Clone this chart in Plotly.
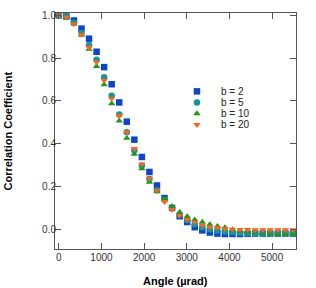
import plotly.graph_objects as go

step = 177.0
angle = [k * step for k in range(32)]

b2 = [1.0, 0.995, 0.976, 0.938, 0.891, 0.83, 0.758, 0.678, 0.593, 0.503, 0.419, 0.338,
      0.268, 0.205, 0.146, 0.1, 0.061, 0.034, 0.01, -0.005, -0.015, -0.02, -0.022, -0.022,
      -0.022, -0.021, -0.02, -0.02, -0.02, -0.02, -0.02, -0.02]
b5 = [1.0, 0.993, 0.965, 0.918, 0.861, 0.793, 0.711, 0.624, 0.537, 0.454, 0.37, 0.298,
      0.235, 0.182, 0.138, 0.1, 0.068, 0.043, 0.024, 0.01, 0.0, -0.005, -0.01, -0.013,
      -0.016, -0.018, -0.02, -0.02, -0.02, -0.02, -0.02, -0.02]
b10 = [1.0, 0.99, 0.96, 0.908, 0.842, 0.762, 0.676, 0.588, 0.507, 0.426, 0.352, 0.284,
       0.221, 0.176, 0.142, 0.108, 0.08, 0.06, 0.045, 0.034, 0.023, 0.014, 0.008, -0.001,
       -0.008, -0.012, -0.016, -0.019, -0.021, -0.022, -0.022, -0.022]
b20 = [1.0, 0.99, 0.96, 0.91, 0.85, 0.781, 0.696, 0.611, 0.531, 0.454, 0.377, 0.305,
       0.238, 0.181, 0.129, 0.092, 0.064, 0.046, 0.034, 0.018, 0.011, 0.008, 0.003, 0.0,
       -0.001, -0.002, -0.003, -0.003, -0.003, -0.003, -0.003, -0.003]

names = ["b = 2", "b = 5", "b = 10", "b = 20"]
values = [b2, b5, b10, b20]
symbols = ["square", "circle", "triangle-up", "triangle-down"]
colors = ["#0a44d0", "#12989c", "#1a9a1a", "#ff6414"]

FONT = "Liberation Sans, Arial, sans-serif"

fig = go.Figure()
for name, vals, sym, col in zip(names, values, symbols, colors):
    fig.add_trace(go.Scatter(
        x=angle, y=vals, mode="markers", name=name, showlegend=False,
        marker=dict(symbol=sym, size=6.5, color=col, line=dict(width=0)),
    ))

# compact legend drawn on an overlay axis spanning the plot area
leg_y = [0.668, 0.621, 0.574, 0.527]
leg_x_marker = 0.589
leg_x_text = 0.680
fig.add_trace(go.Scatter(
    x=[leg_x_marker] * 4, y=leg_y, mode="markers", showlegend=False,
    xaxis="x2", yaxis="y2", hoverinfo="skip",
    marker=dict(symbol=symbols, size=6.5, color=colors, line=dict(width=0)),
))
for nm, yy in zip(names, leg_y):
    fig.add_annotation(x=leg_x_text, y=yy, xref="paper", yref="paper", text=nm,
                       showarrow=False, xanchor="left", yanchor="middle",
                       font=dict(family=FONT, size=10, color="#222222"))

axis_common = dict(
    showline=True, linecolor="#555555", linewidth=1, mirror="ticks",
    ticks="inside", ticklen=6, tickcolor="#555555", showgrid=False, zeroline=False,
    tickfont=dict(family=FONT, size=10, color="#333333"),
)

fig.add_annotation(x=0.5, y=-0.134, xref="paper", yref="paper", text="<b>Angle (µrad)</b>",
                   showarrow=False, xanchor="center", yanchor="middle",
                   font=dict(family=FONT, size=11, color="black"))
fig.add_annotation(x=-0.197, y=0.5, xref="paper", yref="paper",
                   text="<b>Correlation Coefficient</b>", textangle=-90,
                   showarrow=False, xanchor="center", yanchor="middle",
                   font=dict(family=FONT, size=11, color="black"))

fig.update_layout(
    width=316, height=288,
    margin=dict(l=55, r=20, t=10, b=39),
    paper_bgcolor="white", plot_bgcolor="white",
    xaxis=dict(range=[-90, 5560], tickvals=[0, 1000, 2000, 3000, 4000, 5000],
               ticklabelstandoff=-1, **axis_common),
    yaxis=dict(range=[-0.092, 1.011], tickvals=[0, 0.2, 0.4, 0.6, 0.8, 1.0],
               tickformat=".1f", ticklabelstandoff=-4, **axis_common),
    xaxis2=dict(range=[0, 1], overlaying="x", visible=False, fixedrange=True),
    yaxis2=dict(range=[0, 1], overlaying="y", visible=False, fixedrange=True),
    showlegend=False,
)

fig.write_html("out.html", config={"displayModeBar": False},
               post_script="document.body.style.margin='0';")
